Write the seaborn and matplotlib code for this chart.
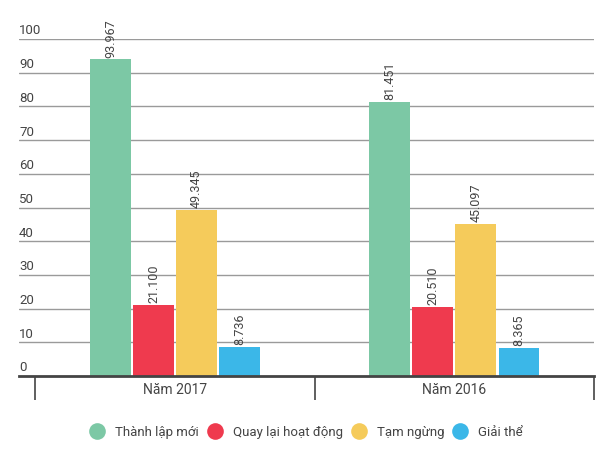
import matplotlib
matplotlib.use('Agg')
import matplotlib.pyplot as plt
from matplotlib.lines import Line2D
import seaborn as sns
import pandas as pd

# data (thousand enterprises)
years = ["Năm 2017", "Năm 2016"]
groups = ["Thành lập mới", "Quay lại hoạt động", "Tạm ngừng", "Giải thể"]
vals_2017 = [93.967, 21.100, 49.345, 8.736]
vals_2016 = [81.451, 20.510, 45.097, 8.365]
colors = ["#7CC8A5", "#EF3A4E", "#F5CB5B", "#3BB7E8"]
yticks = [0, 10, 20, 30, 40, 50, 60, 70, 80, 90, 100]

rows = []
for g, a, b in zip(groups, vals_2017, vals_2016):
    rows.append({"year": years[0], "group": g, "value": a})
    rows.append({"year": years[1], "group": g, "value": b})
df = pd.DataFrame(rows)

sns.set_style("white")
plt.rcParams['font.family'] = ['Roboto', 'DejaVu Sans']

fig = plt.figure(figsize=(6.12, 4.77), dpi=100)
ax = fig.add_axes([19/612, 100/477, 575/612, 337/477])

sns.barplot(data=df, x="year", y="value", hue="group", order=years,
            hue_order=groups, palette=colors, width=0.617, gap=0.05,
            saturation=1, edgecolor="none", legend=False, ax=ax)

for c in ax.containers:
    ax.bar_label(c, labels=["%.3f" % v for v in c.datavalues], rotation=90,
                 padding=2, fontsize=9, color="#444444")

ax.set_xlim(-0.559, 1.5)
ax.set_ylim(0, 100)

# grid lines + labels above them
for t in yticks[1:]:
    ax.axhline(t, color="#9a9a9a", lw=1, zorder=0)
for t in yticks:
    ax.annotate(str(t), xy=(0, t), xycoords=("axes fraction", "data"),
                xytext=(0, 1.8), textcoords="offset points",
                ha="left", va="bottom", fontsize=9.5, color="#444444")
ax.set_yticks([])
ax.set_ylabel("")
ax.set_xlabel("")

sns.despine(ax=ax, left=True, top=True, right=True)
ax.spines["bottom"].set_color("#444444")
ax.spines["bottom"].set_linewidth(2)

ax.set_xticks([0, 1])
ax.set_xticklabels(years, fontsize=10, color="#444444")
ax.tick_params(axis="x", which="major", length=0, pad=4)
ax.set_xticks([-0.5, 0.5, 1.5], minor=True)
ax.tick_params(axis="x", which="minor", bottom=True, length=17, width=1.2,
               color="#444444", direction="out")

handles = [Line2D([0], [0], marker="o", color="none", markerfacecolor=c,
                  markeredgecolor="none", markersize=12) for c in colors]
fig.legend(handles, groups, loc="center", bbox_to_anchor=(0.5, 44/477),
           ncol=4, frameon=False, fontsize=9.5, handletextpad=0.75,
           columnspacing=0.62, labelcolor="#444444", handlelength=1.2)

plt.savefig("out.png", dpi=100)
